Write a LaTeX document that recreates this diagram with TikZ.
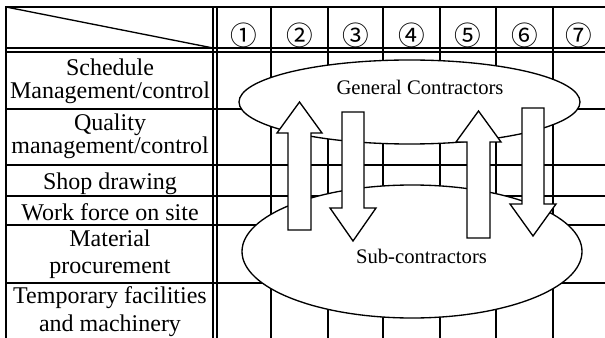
\documentclass[tikz,border=0pt]{standalone}
\usepackage{fontspec}
\setmainfont{Liberation Serif}
\newfontfamily\cjkfont{Noto Sans CJK JP}
\usetikzlibrary{shapes.geometric}
\begin{document}
\begin{tikzpicture}[x=0.75pt,y=-0.75pt,
  gridline/.style={line width=1pt},
  borderline/.style={line width=1.5pt},
  dblline/.style={line width=0.8pt},
  lbl/.style={font=\fontsize{18}{20}\selectfont, anchor=base, inner sep=0pt},
  num/.style={font=\cjkfont\fontsize{20}{22}\selectfont, inner sep=0pt},
  ell/.style={ellipse, draw, fill=white, line width=1pt, inner sep=0pt},
  blockarrow/.style={draw, fill=white, line width=1pt, line join=miter},
  etxt/.style={font=\fontsize{15.5}{18}\selectfont, anchor=base, inner sep=0pt}]
\useasboundingbox (0,0) rectangle (605,338);
% table grid
\draw[borderline] (5,7) -- (605,7);
\draw[borderline] (6,7) -- (6,338);
\draw[dblline] (213,7) -- (213,338) (217,7) -- (217,338);
\draw[dblline] (6,48) -- (605,48) (6,52) -- (605,52);
\foreach \x in {271,328,383,440,496,553} \draw[gridline] (\x,7) -- (\x,338);
\foreach \y in {109,165,196,225,283} \draw[gridline] (6,\y) -- (605,\y);
\draw[gridline] (6,7) -- (213,48);
% header numbers
\node[num] (h1) at (244,35) {①};
\node[num] (h2) at (299.5,35) {②};
\node[num] (h3) at (355.5,35) {③};
\node[num] (h4) at (411.5,35) {④};
\node[num] (h5) at (468,35) {⑤};
\node[num] (h6) at (524.5,35) {⑥};
\node[num] (h7) at (579,35) {⑦};
% row labels
\node[lbl] (l1a) at (110,75.5) {Schedule};
\node[lbl] (l1b) at (110,98.5) {Management/control};
\node[lbl] (l2a) at (110,131) {Quality};
\node[lbl] (l2b) at (110,154) {management/control};
\node[lbl] (l3) at (110,190) {Shop drawing};
\node[lbl] (l4) at (110,220) {Work force on site};
\node[lbl] (l5a) at (110,246.5) {Material};
\node[lbl] (l5b) at (110,273) {procurement};
\node[lbl] (l6a) at (110,303) {Temporary facilities};
\node[lbl] (l6b) at (110,331) {and machinery};
% ellipses
\node[ell, minimum width=255.75pt, minimum height=63pt] (gc) at (409.5,102) {};
\node[ell, minimum width=255pt, minimum height=99.75pt] (sc) at (412,251.5) {};
% block arrows
\draw[blockarrow] (288,230) -- (288,133) -- (277,133) -- (299.5,102) -- (322,133) -- (311,133) -- (311,230) -- cycle;
\draw[blockarrow] (342,112) -- (364,112) -- (364,208) -- (376,208) -- (353,241) -- (330,208) -- (342,208) -- cycle;
\draw[blockarrow] (467,238) -- (467,142) -- (456,142) -- (478.5,111) -- (501,142) -- (490,142) -- (490,238) -- cycle;
\draw[blockarrow] (522,108) -- (544,108) -- (544,204) -- (556,204) -- (533,236) -- (510,204) -- (522,204) -- cycle;
% ellipse texts
\node[etxt] (gct) at (420,95) {General Contractors};
\node[etxt] (sct) at (421.5,263) {Sub-contractors};
\end{tikzpicture}
\end{document}
